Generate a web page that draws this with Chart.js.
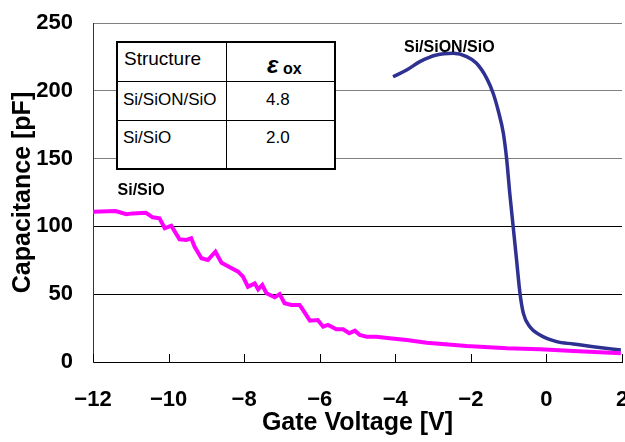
<!DOCTYPE html>
<html>
<head>
<meta charset="utf-8">
<script src="https://cdn.jsdelivr.net/npm/chart.js@4/dist/chart.umd.min.js"></script>
<style>
  html, body { margin: 0; padding: 0; background: #fff; }
  #wrap { position: relative; width: 625px; height: 442px; }
  #tbl { position: absolute; left: 0; top: 0; width: 625px; height: 442px; pointer-events: none;
         font-family: "Liberation Sans", Arial, sans-serif; color: #000; }
  #tbl .box { position: absolute; background: #fff; border: 2px solid #000; box-sizing: border-box; }
  #tbl .ln { position: absolute; background: #000; }
  #tbl .t { position: absolute; white-space: nowrap; }
</style>
</head>
<body>
<div id="wrap">
  <canvas id="cv"></canvas>
  <div id="tbl">
    <div class="box" style="left:116px;top:41px;width:220px;height:129px;"></div>
    <div class="ln" style="left:226px;top:42px;width:1px;height:127px;"></div>
    <div class="ln" style="left:117px;top:81px;width:218px;height:1px;"></div>
    <div class="ln" style="left:117px;top:120px;width:218px;height:1px;"></div>
    <div class="t" style="left:124px;top:49px;font-size:19px;line-height:19px;">Structure</div>
    <div class="t" style="left:267px;top:53px;font-size:24px;line-height:24px;font-weight:bold;font-style:italic;">ε</div>
    <div class="t" style="left:283px;top:61px;font-size:16px;line-height:16px;font-weight:bold;">ox</div>
    <div class="t" style="left:123px;top:91px;font-size:17px;line-height:17px;">Si/SiON/SiO</div>
    <div class="t" style="left:266px;top:91px;font-size:17px;line-height:17px;">4.8</div>
    <div class="t" style="left:123px;top:129px;font-size:17px;line-height:17px;">Si/SiO</div>
    <div class="t" style="left:266px;top:129px;font-size:17px;line-height:17px;">2.0</div>
  </div>
</div>
<script>
// valeurs (V, pF)
const sioV = [-12, -11.4, -11.12, -10.95, -10.6, -10.42, -10.24, -10.1, -9.93, -9.71, -9.53, -9.4, -9.31,
  -9.13, -8.96, -8.76, -8.6, -8.38, -8.16, -8.03, -7.9, -7.72, -7.63, -7.52, -7.41, -7.19, -7.06, -6.93,
  -6.75, -6.53, -6.44, -6.26, -6.05, -5.91, -5.78, -5.56, -5.38, -5.22, -5.07, -4.94, -4.76, -4.5, -4.15,
  -3.7, -3.17, -2.11, -1.05, -0.17, 0.71, 1.97];
const sioC = [110.8, 111.3, 109, 109.6, 110, 106.7, 106, 98.6, 100.5, 90.5, 90, 91.2, 85,
  76.5, 75.2, 81.3, 73.2, 69.8, 66.6, 62.9, 55.5, 58, 53.6, 56.8, 50.7, 47.7, 50.1, 43.3,
  42, 42, 38.3, 30.5, 31, 26, 27.3, 24.1, 24.1, 21.2, 23.1, 19.9, 18.7, 18.7, 17.5,
  16.2, 14.2, 11.8, 10.1, 9.4, 8.1, 6.4];

const sionV = [-4.06, -3.7, -3.35, -2.91, -2.47, -2.11, -1.85, -1.58, -1.41, -1.28, -1.14, -1.05, -0.97,
  -0.88, -0.79, -0.7, -0.61, -0.44, -0.17, 0.27, 0.71, 1.24, 1.97];
const sionC = [210.4, 215.3, 221.5, 226.4, 227.6, 225.2, 220.3, 209.2, 198.2, 185.8, 168.7, 149, 124.4,
  99.8, 75.2, 50.7, 35.9, 26, 19.9, 15, 13.3, 11.3, 8.8];

const xTicks = [-12, -10, -8, -6, -4, -2, 0, 2];
const yTicks = [0, 50, 100, 150, 200, 250];

const labels = [
  { text: 'Si/SiO', x: -11.35, y: 123 },
  { text: 'Si/SiON/SiO', x: -3.77, y: 228.6 }
];

const tickFont = { family: '"Liberation Sans", Arial, sans-serif', size: 22, weight: 'bold' };
const titleFont = { family: '"Liberation Sans", Arial, sans-serif', size: 25, weight: 'bold' };

// petites graduations vers l'intérieur + étiquettes des courbes
const extras = {
  id: 'extras',
  afterDraw(chart) {
    const { ctx, chartArea, scales } = chart;
    ctx.save();
    ctx.strokeStyle = '#000';
    ctx.lineWidth = 1;
    xTicks.forEach(v => {
      const px = Math.round(scales.x.getPixelForValue(v)) + 0.5;
      ctx.beginPath();
      ctx.moveTo(px, chartArea.bottom);
      ctx.lineTo(px, chartArea.bottom - 8);
      ctx.stroke();
    });
    ctx.fillStyle = '#000';
    ctx.font = 'bold 16px "Liberation Sans", Arial, sans-serif';
    ctx.textAlign = 'left';
    ctx.textBaseline = 'alphabetic';
    labels.forEach(l => {
      ctx.fillText(l.text, scales.x.getPixelForValue(l.x), scales.y.getPixelForValue(l.y));
    });
    ctx.restore();
  }
};

new Chart(document.getElementById('cv'), {
  type: 'line',
  data: {
    datasets: [
      {
        label: 'Si/SiO',
        data: sioV.map((v, i) => ({ x: v, y: sioC[i] })),
        borderColor: '#ff00ff',
        borderWidth: 4,
        pointRadius: 0,
        tension: 0
      },
      {
        label: 'Si/SiON/SiO',
        data: sionV.map((v, i) => ({ x: v, y: sionC[i] })),
        borderColor: '#2e3192',
        borderWidth: 3.5,
        pointRadius: 0,
        cubicInterpolationMode: 'monotone'
      }
    ]
  },
  options: {
    responsive: true,
    maintainAspectRatio: false,
    animation: false,
    layout: { padding: { left: 0, right: 3, top: 23, bottom: 0 } },
    plugins: { legend: { display: false }, tooltip: { enabled: false } },
    scales: {
      x: {
        type: 'linear',
        min: -12, max: 2,
        afterBuildTicks: s => { s.ticks = xTicks.map(v => ({ value: v })); },
        afterFit: s => { s.height = 80; s.paddingLeft = 0; s.paddingRight = 0; },
        grid: { drawOnChartArea: false, drawTicks: false },
        border: { display: true, color: '#000', width: 1 },
        ticks: {
          color: '#000', font: tickFont, padding: 25, maxRotation: 0,
          callback: v => String(v).replace('-', '\u2212')
        },
        title: { display: true, text: 'Gate Voltage [V]', color: '#000', font: titleFont, padding: { top: 0, bottom: 4 } }
      },
      y: {
        min: 0, max: 250,
        afterBuildTicks: s => { s.ticks = yTicks.map(v => ({ value: v })); },
        afterFit: s => { s.width = 93; s.paddingTop = 0; s.paddingBottom = 0; },
        grid: {
          drawTicks: false,
          color: c => (c.tick && c.tick.value >= 150 ? '#808080' : '#000'),
          lineWidth: 1
        },
        border: { display: true, color: '#333', width: 1 },
        ticks: { color: '#000', font: tickFont, padding: 20 },
        title: { display: true, text: 'Capacitance [pF]', color: '#000', font: titleFont, padding: { top: 8, bottom: 0 } }
      }
    }
  },
  plugins: [extras]
});
</script>
</body>
</html>
